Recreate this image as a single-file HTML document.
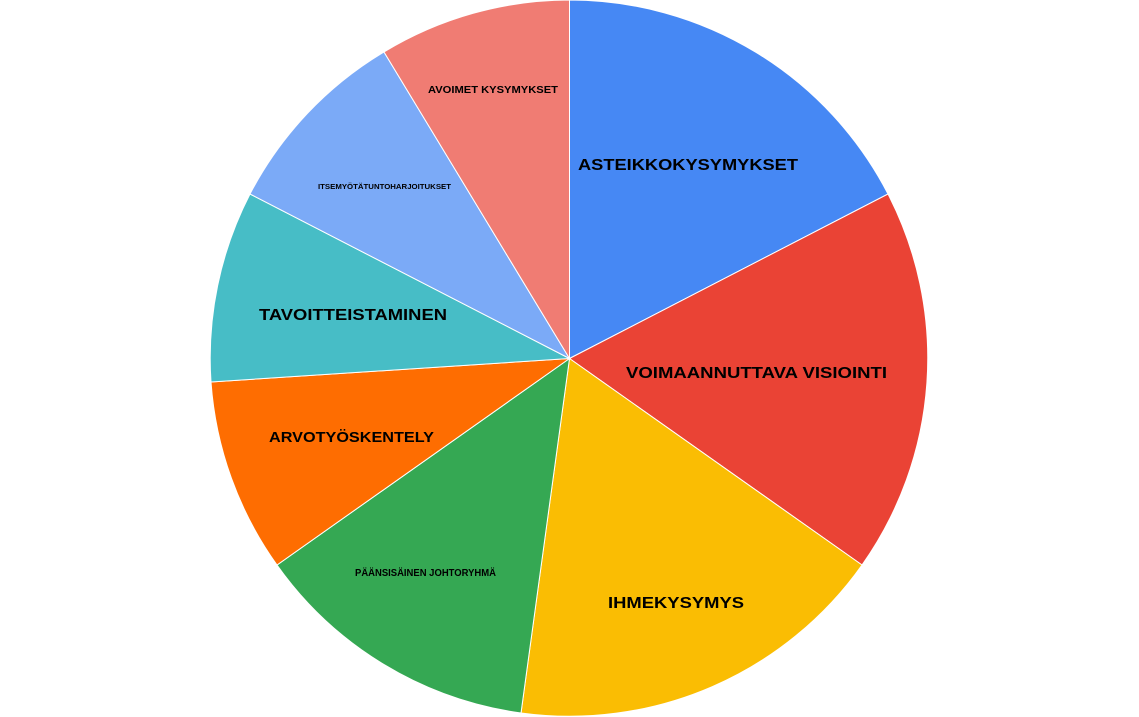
<!DOCTYPE html>
<html><head><meta charset="utf-8"><style>
html,body{margin:0;padding:0;background:#fff;}
svg{display:block;}
text{font-family:"Liberation Sans",Arial,sans-serif;font-weight:bold;fill:#000;}
</style></head><body>
<svg width="1139" height="717" viewBox="0 0 1139 717" xmlns="http://www.w3.org/2000/svg">
<g stroke="#fff" stroke-width="1">
<path d="M569.5,358.5 L569.5,0 A358.5,358.5 0 0 1 888,194 Z" fill="#4688f4"/>
<path d="M569.5,358.5 L888,194 A358.5,358.5 0 0 1 862,565 Z" fill="#ea4335"/>
<path d="M569.5,358.5 L862,565 A358.5,358.5 0 0 1 521,713 Z" fill="#fabd03"/>
<path d="M569.5,358.5 L521,713 A358.5,358.5 0 0 1 277,565 Z" fill="#35a853"/>
<path d="M569.5,358.5 L277,565 A358.5,358.5 0 0 1 211,382 Z" fill="#fe6d01"/>
<path d="M569.5,358.5 L211,382 A358.5,358.5 0 0 1 250,194 Z" fill="#47bdc6"/>
<path d="M569.5,358.5 L250,194 A358.5,358.5 0 0 1 384,52 Z" fill="#7baaf7"/>
<path d="M569.5,358.5 L384,52 A358.5,358.5 0 0 1 569.5,0 Z" fill="#f07c73"/>
</g>
<text x="578" y="170" font-size="16" textLength="220" lengthAdjust="spacingAndGlyphs">ASTEIKKOKYSYMYKSET</text>
<text x="626" y="378" font-size="16" textLength="261" lengthAdjust="spacingAndGlyphs">VOIMAANNUTTAVA VISIOINTI</text>
<text x="608" y="608" font-size="16" textLength="136" lengthAdjust="spacingAndGlyphs">IHMEKYSYMYS</text>
<text x="355" y="576" font-size="10" textLength="141" lengthAdjust="spacingAndGlyphs">PÄÄNSISÄINEN JOHTORYHMÄ</text>
<text x="269" y="442" font-size="15" textLength="165" lengthAdjust="spacingAndGlyphs">ARVOTYÖSKENTELY</text>
<text x="259" y="320" font-size="16" textLength="188" lengthAdjust="spacingAndGlyphs">TAVOITTEISTAMINEN</text>
<text x="318" y="189" font-size="7" textLength="133" lengthAdjust="spacingAndGlyphs">ITSEMYÖTÄTUNTOHARJOITUKSET</text>
<text x="428" y="93" font-size="10" textLength="130" lengthAdjust="spacingAndGlyphs">AVOIMET KYSYMYKSET</text>
</svg>
</body></html>
